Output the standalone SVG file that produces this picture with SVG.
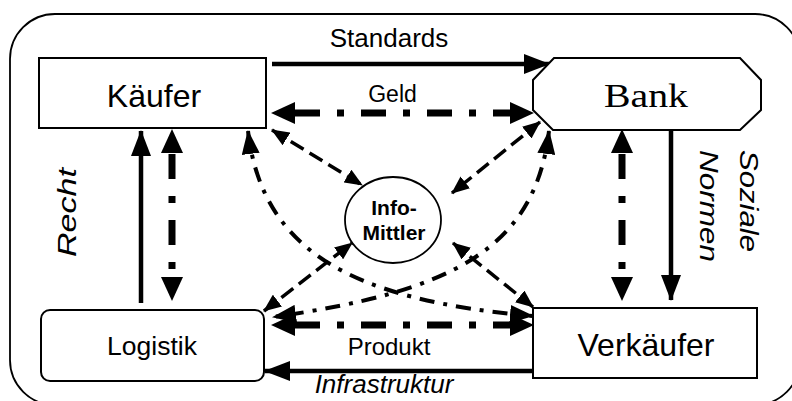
<svg xmlns="http://www.w3.org/2000/svg" width="792" height="401" viewBox="0 0 792 401">
<defs>
<style>
.box{fill:#fff;stroke:#000;stroke-width:2}
.t{font-family:"Liberation Sans",Arial,sans-serif;fill:#000}
.solid{fill:none;stroke:#000;stroke-width:4.5}
.thick{fill:none;stroke:#000;stroke-width:7;stroke-dasharray:25 17 7 17}
.dash{fill:none;stroke:#000;stroke-width:3.5;stroke-dasharray:15 7}
.dd{fill:none;stroke:#000;stroke-width:4;stroke-dasharray:15 9 4 9}
.hd{fill:none;stroke:none}
</style>
<marker id="hb" markerUnits="userSpaceOnUse" viewBox="0 0 24 22" markerWidth="24" markerHeight="22" refX="23" refY="11" orient="auto-start-reverse"><path d="M0,0 L24,11 L0,22 z"/></marker>
<marker id="hm" markerUnits="userSpaceOnUse" viewBox="0 0 26 20" markerWidth="26" markerHeight="20" refX="25" refY="10" orient="auto-start-reverse"><path d="M0,0 L26,10 L0,20 z"/></marker>
<marker id="hc" markerUnits="userSpaceOnUse" viewBox="0 0 24 18" markerWidth="24" markerHeight="18" refX="23" refY="9" orient="auto-start-reverse"><path d="M0,0 L24,9 L0,18 z"/></marker>
<marker id="hs" markerUnits="userSpaceOnUse" viewBox="0 0 18 15" markerWidth="18" markerHeight="15" refX="17" refY="7.5" orient="auto-start-reverse"><path d="M0,0 L18,7.5 L0,15 z"/></marker>
</defs>
<rect x="10" y="14" width="790" height="391" rx="45" fill="none" stroke="#000" stroke-width="1.8"/>
<g id="connectors">
<line class="solid" x1="272" y1="64" x2="549" y2="64" marker-end="url(#hm)"/>
<line class="thick" x1="295" y1="113" x2="511" y2="113"/>
<line class="hd" x1="272" y1="113" x2="533" y2="113" marker-start="url(#hb)" marker-end="url(#hb)"/>
<line class="thick" x1="172" y1="154" x2="172" y2="278"/>
<line class="hd" x1="172" y1="130" x2="172" y2="300" marker-start="url(#hb)" marker-end="url(#hb)"/>
<line class="solid" x1="141" y1="303" x2="141" y2="131" marker-end="url(#hm)"/>
<line class="thick" x1="622" y1="154" x2="622" y2="278"/>
<line class="hd" x1="622" y1="130" x2="622" y2="300" marker-start="url(#hb)" marker-end="url(#hb)"/>
<line class="solid" x1="671" y1="130" x2="671" y2="300" marker-end="url(#hm)"/>
<line class="thick" x1="295" y1="325" x2="511" y2="325"/>
<line class="hd" x1="272" y1="325" x2="533" y2="325" marker-start="url(#hb)" marker-end="url(#hb)"/>
<line class="solid" x1="533" y1="371" x2="265" y2="371" marker-end="url(#hm)"/>
<line class="dash" x1="272" y1="130" x2="362" y2="185" marker-start="url(#hs)" marker-end="url(#hs)"/>
<line class="dash" x1="540" y1="122" x2="452" y2="193" marker-start="url(#hs)" marker-end="url(#hs)"/>
<line class="dash" x1="264" y1="311" x2="352" y2="243" marker-start="url(#hs)" marker-end="url(#hs)"/>
<line class="dash" x1="533" y1="307" x2="453" y2="243" marker-start="url(#hs)" marker-end="url(#hs)"/>
<path class="dd" d="M248,131 C262,250 350,300 533,316" marker-start="url(#hc)" marker-end="url(#hc)"/>
<path class="dd" d="M549,131 C535,250 450,292 273,317" marker-start="url(#hc)" marker-end="url(#hc)"/>
</g>
<g id="kaeufer"><rect class="box" x="39" y="58" width="227" height="70"/><text class="t" x="154" y="107" font-size="32" text-anchor="middle">Käufer</text></g>
<g id="bank"><path class="box" d="M554,58 L740,58 L761,80 L761,110 L740,130 L553,130 L533,110 L533,80 Z"/><text x="646" y="107" font-family="'Liberation Serif','Times New Roman',serif" font-size="33" text-anchor="middle" textLength="84" lengthAdjust="spacingAndGlyphs">Bank</text></g>
<g id="logistik"><rect class="box" x="41" y="310" width="223" height="71" rx="9"/><text class="t" x="152" y="355" font-size="26.5" text-anchor="middle">Logistik</text></g>
<g id="verkaeufer"><rect class="box" x="533" y="308" width="224" height="70"/><text class="t" x="646" y="356" font-size="32" text-anchor="middle">Verkäufer</text></g>
<g id="infomittler"><ellipse cx="393" cy="220" rx="48" ry="43" fill="#fff" stroke="#000" stroke-width="1.8"/><text class="t" x="394" y="215" font-size="21" font-weight="bold" text-anchor="middle">Info-</text><text class="t" x="394" y="240" font-size="21" font-weight="bold" text-anchor="middle">Mittler</text></g>
<g id="labels">
<text class="t" x="389" y="47" font-size="26" text-anchor="middle">Standards</text>
<text class="t" x="392.5" y="102" font-size="23" text-anchor="middle">Geld</text>
<text class="t" x="389" y="355" font-size="24" text-anchor="middle">Produkt</text>
<text class="t" x="384" y="393" font-size="26" font-style="italic" text-anchor="middle">Infrastruktur</text>
<text class="t" transform="translate(76,212.5) rotate(-90)" font-size="25" font-style="italic" text-anchor="middle" textLength="89" lengthAdjust="spacingAndGlyphs">Recht</text>
<text class="t" transform="translate(740,201) rotate(90)" font-size="25" font-style="italic" text-anchor="middle" textLength="102" lengthAdjust="spacingAndGlyphs">Soziale</text>
<text class="t" transform="translate(700,206) rotate(90)" font-size="25" font-style="italic" text-anchor="middle" textLength="112" lengthAdjust="spacingAndGlyphs">Normen</text>
</g>
</svg>
